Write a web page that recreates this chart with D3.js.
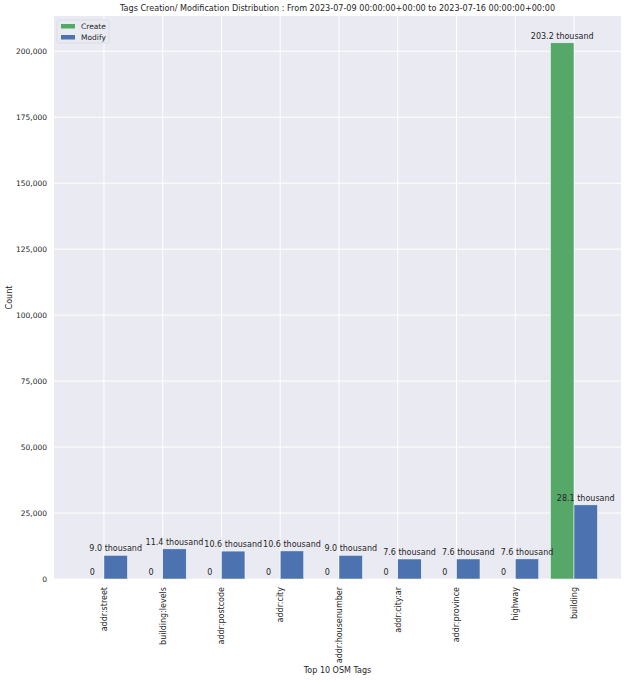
<!DOCTYPE html>
<html>
<head>
<meta charset="utf-8">
<script src="https://cdn.jsdelivr.net/npm/d3@7"></script>
<style>
  html, body { margin: 0; padding: 0; background: #fff; }
  svg { display: block; font-family: "DejaVu Sans", sans-serif; }
</style>
</head>
<body>
<svg id="chart"></svg>
<script>
const tags = ["addr:street", "building:levels", "addr:postcode", "addr:city", "addr:housenumber",
  "addr:city:ar", "addr:province", "highway", "building"];
const createCounts = [0, 0, 0, 0, 0, 0, 0, 0, 203200];
const modifyCounts = [8990, 11420, 10580, 10640, 8980, 7580, 7600, 7620, 28100];
const yTicks = [0, 25000, 50000, 75000, 100000, 125000, 150000, 175000, 200000];
const seriesNames = ["Create", "Modify"];
const seriesColors = ["#55a868", "#4c72b0"];

const width = 626;
const height = 680;
const marginTop = 16;
const marginRight = 5;
const marginBottom = 101;
const marginLeft = 54;
const textColor = "#262626";

const svg = d3.select("#chart")
  .attr("width", width)
  .attr("height", height);

// category index -> pixel, with the same slack pandas leaves either side
const x = d3.scaleLinear()
  .domain([-0.85, tags.length - 0.2])
  .range([marginLeft, width - marginRight]);

const y = d3.scaleLinear()
  .domain([0, d3.max(createCounts.concat(modifyCounts)) * 1.05])
  .range([height - marginBottom, marginTop]);

const barWidth = 0.4;

svg.append("rect")
  .attr("x", marginLeft)
  .attr("y", marginTop)
  .attr("width", width - marginRight - marginLeft)
  .attr("height", height - marginBottom - marginTop)
  .attr("fill", "#eaeaf2");

// grid
svg.append("g")
  .attr("stroke", "#fff")
  .attr("stroke-width", 1)
  .call(g => g.selectAll("line.h")
    .data(yTicks)
    .join("line")
    .attr("x1", marginLeft)
    .attr("x2", width - marginRight)
    .attr("y1", d => y(d))
    .attr("y2", d => y(d)))
  .call(g => g.selectAll("line.v")
    .data(tags)
    .join("line")
    .attr("class", "v")
    .attr("x1", (d, i) => x(i))
    .attr("x2", (d, i) => x(i))
    .attr("y1", marginTop)
    .attr("y2", height - marginBottom));

const rows = tags.map((t, i) => ({ tag: t, i, values: [createCounts[i], modifyCounts[i]] }));
const bars = rows.flatMap(r => r.values.map((v, k) => ({ i: r.i, k, v })));

svg.append("g")
  .selectAll("rect")
  .data(bars)
  .join("rect")
  .attr("x", d => x(d.i - barWidth + d.k * barWidth))
  .attr("y", d => y(d.v))
  .attr("width", x(barWidth) - x(0))
  .attr("height", d => y(0) - y(d.v))
  .attr("fill", d => seriesColors[d.k])
  .attr("stroke", "#fff")
  .attr("stroke-width", 0.5);

const fmt = v => v === 0 ? "0" : (v / 1000).toFixed(1) + " thousand";

svg.append("g")
  .attr("font-size", 8)
  .attr("fill", textColor)
  .attr("text-anchor", "middle")
  .selectAll("text")
  .data(bars)
  .join("text")
  .attr("x", d => x(d.i - barWidth / 2 + d.k * barWidth))
  .attr("y", d => y(d.v) - 4)
  .text(d => fmt(d.v));

// y axis
const yAxis = d3.axisLeft(y)
  .tickValues(yTicks)
  .tickFormat(d3.format(","))
  .tickSize(0)
  .tickPadding(7);

svg.append("g")
  .attr("transform", `translate(${marginLeft},0)`)
  .call(yAxis)
  .call(g => g.select(".domain").remove())
  .call(g => g.selectAll("text")
    .attr("font-family", "DejaVu Sans, sans-serif")
    .attr("font-size", 7.5)
    .attr("fill", textColor));

// x axis, labels rotated
const xAxis = d3.axisBottom(x)
  .tickValues(d3.range(tags.length))
  .tickFormat(i => tags[i])
  .tickSize(0)
  .tickPadding(0);

svg.append("g")
  .attr("transform", `translate(0,${height - marginBottom})`)
  .call(xAxis)
  .call(g => g.select(".domain").remove())
  .call(g => g.selectAll("text")
    .attr("font-family", "DejaVu Sans, sans-serif")
    .attr("font-size", 8)
    .attr("fill", textColor)
    .attr("dy", null)
    .attr("y", 0)
    .attr("text-anchor", "end")
    .attr("dominant-baseline", "central")
    .attr("transform", "translate(0,8) rotate(-90)"));

svg.append("text")
  .attr("x", (marginLeft + width - marginRight) / 2)
  .attr("y", 673)
  .attr("text-anchor", "middle")
  .attr("font-size", 8)
  .attr("fill", textColor)
  .text("Top 10 OSM Tags");

svg.append("text")
  .attr("transform", `translate(12,${(marginTop + height - marginBottom) / 2}) rotate(-90)`)
  .attr("text-anchor", "middle")
  .attr("font-size", 8)
  .attr("fill", textColor)
  .text("Count");

svg.append("text")
  .attr("x", (marginLeft + width - marginRight) / 2)
  .attr("y", 11)
  .attr("text-anchor", "middle")
  .attr("font-size", 8.1)
  .attr("fill", textColor)
  .text("Tags Creation/ Modification Distribution : From 2023-07-09 00:00:00+00:00 to 2023-07-16 00:00:00+00:00");

// legend
const legend = svg.append("g").attr("transform", `translate(${marginLeft + 3},${marginTop + 4})`);
legend.append("rect")
  .attr("width", 52)
  .attr("height", 23)
  .attr("rx", 2)
  .attr("fill", "#eaeaf2")
  .attr("stroke", "#d5d5dd")
  .attr("stroke-width", 0.6);
const item = legend.selectAll("g.item")
  .data(seriesNames)
  .join("g")
  .attr("transform", (d, i) => `translate(4,${4 + i * 11})`);
item.append("rect")
  .attr("width", 14)
  .attr("height", 4.5)
  .attr("fill", (d, i) => seriesColors[i]);
item.append("text")
  .attr("x", 20)
  .attr("y", 2.5)
  .attr("dominant-baseline", "central")
  .attr("font-size", 7.5)
  .attr("fill", textColor)
  .text(d => d);
</script>
</body>
</html>
